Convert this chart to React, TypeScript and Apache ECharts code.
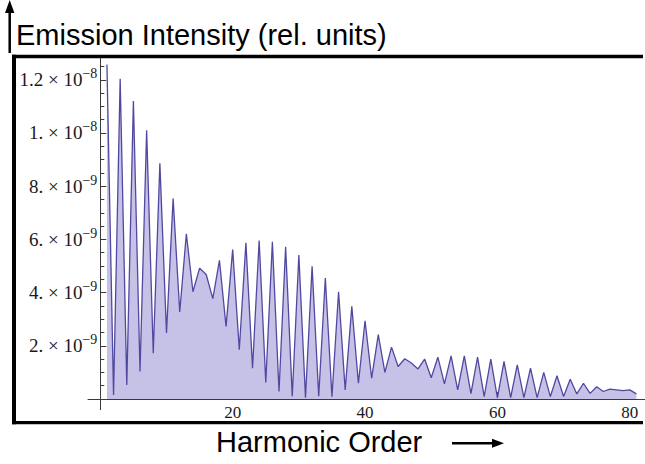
import React, { useEffect, useRef } from 'react';
import * as echarts from 'echarts';

// Harmonic order (x) and emission intensity in units of 1e-9 (y)
const harmonicOrders = [
  1, 2, 3, 4, 5, 6, 7, 8, 9, 10, 11, 12, 13, 14, 15, 16, 17, 18, 19, 20,
  21, 22, 23, 24, 25, 26, 27, 28, 29, 30, 31, 32, 33, 34, 35, 36, 37, 38, 39, 40,
  41, 42, 43, 44, 45, 46, 47, 48, 49, 50, 51, 52, 53, 54, 55, 56, 57, 58, 59, 60,
  61, 62, 63, 64, 65, 66, 67, 68, 69, 70, 71, 72, 73, 74, 75, 76, 77, 78, 79, 80, 81,
];
const intensityE9 = [
  12.57, 0.15, 12.04, 0.53, 11.2, 1.03, 10.1, 1.72, 8.86, 2.48,
  7.54, 3.27, 6.21, 4.03, 4.92, 4.68, 3.77, 5.21, 2.73, 5.62,
  1.85, 5.87, 1.16, 5.96, 0.62, 5.91, 0.28, 5.72, 0.1, 5.41,
  0.05, 4.99, 0.1, 4.55, 0.08, 4.03, 0.34, 3.48, 0.59, 2.94,
  0.78, 2.42, 1.0, 1.95, 1.22, 1.51, 1.35, 1.13, 1.5, 0.8,
  1.57, 0.57, 1.62, 0.34, 1.62, 0.2, 1.57, 0.09, 1.5, 0.04,
  1.41, 0.05, 1.28, 0.05, 1.16, 0.05, 1.0, 0.09, 0.87, 0.09,
  0.74, 0.19, 0.59, 0.21, 0.46, 0.28, 0.37, 0.34, 0.31, 0.34, 0.19,
];

const xMajorTicks = [20, 40, 60, 80];
const xMinorTicks = [5, 10, 15, 25, 30, 35, 45, 50, 55, 65, 70, 75];
const yMajorTicks = [2, 4, 6, 8, 10, 12];
const yMinorTicks = [0.5, 1, 1.5, 2.5, 3, 3.5, 4.5, 5, 5.5, 6.5, 7, 7.5, 8.5, 9, 9.5, 10.5, 11, 11.5, 12.5];
const yTickMantissas = ['2.', '4.', '6.', '8.', '1.', '1.2'];
const yTickExponents = ['\u22129', '\u22129', '\u22129', '\u22129', '\u22128', '\u22128'];

const yTitle = 'Emission Intensity (rel. units)';
const xTitle = 'Harmonic Order';

const X_MIN = -1.86;
const X_MAX = 82.3;
const Y_MIN = -0.4;
const Y_MAX = 12.8;

const W = 645;
const H = 464;
const GRID_LEFT = 88;
const GRID_RIGHT = 0;
const GRID_TOP = 58.5;
const GRID_BOTTOM = 54.4;

const AXIS_COLOR = '#3a3a3a';
const SERIF = '"Liberation Serif", "DejaVu Serif", serif';
const SANS = '"Liberation Sans", Arial, sans-serif';

export default function App() {
  const ref = useRef<HTMLDivElement>(null);

  useEffect(() => {
    if (!ref.current) return;
    const chart = echarts.init(ref.current, undefined, { renderer: 'svg' });

    const data = harmonicOrders.map((h, i) => [h, intensityE9[i]]);

    // place the axes so that they cross at the origin
    const gridW = W - GRID_LEFT - GRID_RIGHT;
    const gridH = H - GRID_TOP - GRID_BOTTOM;
    const xAxisOffset = -((0 - Y_MIN) / (Y_MAX - Y_MIN)) * gridH;
    const yAxisOffset = -((0 - X_MIN) / (X_MAX - X_MIN)) * gridW;

    const yLabel = (v: number) => {
      const i = yMajorTicks.findIndex((t) => Math.abs(t - v) < 1e-6);
      if (i < 0) return '';
      return `{m|${yTickMantissas[i]} \u00d7 10}{e|${yTickExponents[i]}}`;
    };
    const xLabel = (v: number) => {
      const i = xMajorTicks.findIndex((t) => Math.abs(t - v) < 1e-6);
      return i < 0 ? '' : String(xMajorTicks[i]);
    };

    const baseX = {
      type: 'value',
      min: X_MIN,
      max: X_MAX,
      position: 'bottom',
      offset: xAxisOffset,
      splitLine: { show: false },
    };
    const baseY = {
      type: 'value',
      min: Y_MIN,
      max: Y_MAX,
      position: 'left',
      offset: yAxisOffset,
      splitLine: { show: false },
    };

    chart.setOption({
      animation: false,
      backgroundColor: '#ffffff',
      grid: {
        left: GRID_LEFT,
        right: GRID_RIGHT,
        top: GRID_TOP,
        bottom: GRID_BOTTOM,
        containLabel: false,
        outerBoundsMode: 'none',
      },
      xAxis: [
        {
          ...baseX,
          axisLine: { show: true, onZero: false, lineStyle: { color: AXIS_COLOR, width: 1 } },
          axisTick: { show: true, inside: true, length: 7, customValues: xMajorTicks, lineStyle: { color: AXIS_COLOR, width: 1 } },
          axisLabel: {
            show: true,
            customValues: xMajorTicks,
            formatter: xLabel,
            margin: 5,
            fontFamily: SERIF,
            fontSize: 17,
            color: '#1a1a1a',
          },
        },
        {
          ...baseX,
          axisLine: { show: false, onZero: false },
          axisTick: { show: true, inside: true, length: 4, customValues: xMinorTicks, lineStyle: { color: AXIS_COLOR, width: 1 } },
          axisLabel: { show: false },
        },
      ],
      yAxis: [
        {
          ...baseY,
          axisLine: { show: true, onZero: false, lineStyle: { color: AXIS_COLOR, width: 1 } },
          axisTick: { show: true, inside: true, length: 6, customValues: yMajorTicks, lineStyle: { color: AXIS_COLOR, width: 1 } },
          axisLabel: {
            show: true,
            customValues: yMajorTicks,
            formatter: yLabel,
            margin: 3,
            rich: {
              m: { fontFamily: SERIF, fontSize: 19, color: '#1a1a1a', lineHeight: 26 },
              e: { fontFamily: SERIF, fontSize: 14, color: '#1a1a1a', verticalAlign: 'top' },
            },
          },
        },
        {
          ...baseY,
          axisLine: { show: false, onZero: false },
          axisTick: { show: true, inside: true, length: 4, customValues: yMinorTicks, lineStyle: { color: AXIS_COLOR, width: 1 } },
          axisLabel: { show: false },
        },
      ],
      series: [
        {
          type: 'line',
          xAxisIndex: 0,
          yAxisIndex: 0,
          data,
          symbol: 'none',
          lineStyle: { color: '#5049a0', width: 1.3 },
          areaStyle: { color: '#c6c1e6', opacity: 1 },
          z: 1,
        },
      ],
      graphic: [
        {
          type: 'line',
          shape: { x1: 12, y1: 56.5, x2: 643, y2: 56.5 },
          style: { stroke: '#000', lineWidth: 3.6 },
          z: 10,
        },
        {
          type: 'line',
          shape: { x1: 14, y1: 54.7, x2: 14, y2: 424.3 },
          style: { stroke: '#000', lineWidth: 4 },
          z: 10,
        },
        {
          type: 'line',
          shape: { x1: 12, y1: 422.6, x2: 643, y2: 422.6 },
          style: { stroke: '#000', lineWidth: 3.4 },
          z: 10,
        },
        {
          type: 'line',
          shape: { x1: 9.7, y1: 53, x2: 9.7, y2: 8 },
          style: { stroke: '#000', lineWidth: 2.5 },
        },
        {
          type: 'polygon',
          shape: { points: [[5, 13], [9.7, 0], [14.4, 13]] },
          style: { fill: '#000' },
        },
        {
          type: 'line',
          shape: { x1: 452, y1: 443.3, x2: 495, y2: 443.3 },
          style: { stroke: '#000', lineWidth: 2.5 },
        },
        {
          type: 'polygon',
          shape: { points: [[492, 438.8], [504, 443.3], [492, 447.8]] },
          style: { fill: '#000' },
        },
        {
          type: 'text',
          x: 16,
          y: 35,
          style: {
            text: yTitle,
            font: `29px ${SANS}`,
            fill: '#000',
            align: 'left',
            verticalAlign: 'middle',
          },
        },
        {
          type: 'text',
          x: 216,
          y: 442,
          style: {
            text: xTitle,
            font: `29px ${SANS}`,
            fill: '#000',
            align: 'left',
            verticalAlign: 'middle',
          },
        },
      ],
    });

    return () => chart.dispose();
  }, []);

  return (
    <div
      ref={ref}
      style={{ position: 'absolute', left: 0, top: 0, width: W, height: H }}
    />
  );
}
